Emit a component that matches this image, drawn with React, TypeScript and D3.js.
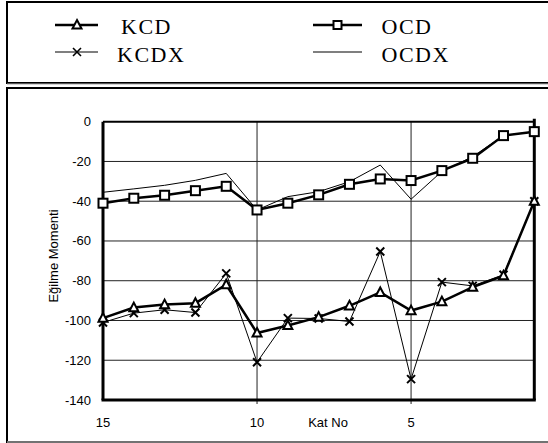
import React from "react";
import * as d3 from "d3";

const floors = [15, 14, 13, 12, 11, 10, 9, 8, 7, 6, 5, 4, 3, 2, 1];
const KCD = [-98.8, -93.5, -92, -91.3, -82, -106.3, -102.5, -98.3, -92.6, -85.9, -95, -90.5, -83.2, -77.5, -40];
const KCDX = [-101, -96.3, -94.6, -96, -76.3, -121, -98.8, -99, -100.5, -65.3, -129.5, -80.7, -82.6, -77, -40];
const OCD = [-41, -38.5, -37, -34.7, -32.5, -44.4, -41, -36.8, -31.5, -28.8, -29.6, -24.6, -18.4, -7, -5];
const OCDX = [-35.5, -33.8, -32, -29.5, -26, -44.4, -37.7, -35.2, -30.2, -21.8, -39, -25, -17.6, -7, -5];
const yTicks = [0, -20, -40, -60, -80, -100, -120, -140];
const xTicks = [15, 10, 5];
const xGrid = [10, 5];

const SANS = "'Liberation Sans', Arial, sans-serif";
const SERIF = "'Liberation Serif', 'Times New Roman', serif";

export default function App() {
  const x = d3.scaleLinear().domain([15, 1]).range([103, 534.3]);
  const y = d3.scaleLinear().domain([0, -140]).range([121.7, 400]);
  const line = d3
    .line<number>()
    .x((_, i) => x(floors[i]))
    .y((d) => y(d));

  const tri = (cx: number, cy: number, s = 9) =>
    `M${cx},${cy - s * 0.55} L${cx + s / 2},${cy + s * 0.4} L${cx - s / 2},${cy + s * 0.4} Z`;
  const cross = (cx: number, cy: number, s = 8) =>
    `M${cx - s / 2},${cy - s / 2} L${cx + s / 2},${cy + s / 2} M${cx + s / 2},${cy - s / 2} L${cx - s / 2},${cy + s / 2}`;

  const [x0, x1] = x.range();
  const [y0, y1] = y.range();
  const legendText = { fontFamily: SERIF, fontSize: 22, fill: "#000", letterSpacing: 1.5 } as const;

  return (
    <svg
      width={548}
      height={443}
      style={{ position: "absolute", left: 0, top: 0, background: "#fff" }}
    >
      {/* legend box */}
      <rect x={7} y={2} width={560} height={81} fill="#fff" stroke="#000" strokeWidth={2} />
      <line x1={7} y1={84} x2={548} y2={84} stroke="#aaa" strokeWidth={1} />
      {/* legend entries */}
      <g>
        <line x1={55} x2={98} y1={25} y2={25} stroke="#000" strokeWidth={2.5} />
        <path d={tri(77, 25)} fill="#fff" stroke="#000" strokeWidth={2} />
        <text x={121} y={34} {...legendText}>KCD</text>
        <line x1={55} x2={98} y1={52} y2={52} stroke="#000" strokeWidth={1.2} />
        <path d={cross(77, 52)} fill="none" stroke="#000" strokeWidth={1.6} />
        <text x={117} y={62} {...legendText}>KCDX</text>
        <line x1={313} x2={362} y1={25} y2={25} stroke="#000" strokeWidth={2.5} />
        <rect x={333.5} y={21} width={8} height={8} fill="#fff" stroke="#000" strokeWidth={2} />
        <text x={381.5} y={34} {...legendText}>OCD</text>
        <line x1={313} x2={362} y1={52} y2={52} stroke="#000" strokeWidth={1.2} />
        <text x={381.5} y={62} {...legendText}>OCDX</text>
      </g>

      {/* chart box */}
      <rect x={7} y={88} width={560} height={354} fill="#fff" stroke="#000" strokeWidth={2} />
      <line x1={7} y1={442} x2={548} y2={442} stroke="#999" strokeWidth={1.5} />

      {/* gridlines */}
      {yTicks.slice(1, -1).map((t) => (
        <line key={"gy" + t} x1={x0} x2={x1} y1={y(t)} y2={y(t)} stroke="#222" strokeWidth={1} />
      ))}
      {xGrid.map((t) => (
        <line key={"gx" + t} x1={x(t)} x2={x(t)} y1={y0} y2={y1 + 4} stroke="#222" strokeWidth={1} />
      ))}

      {/* frame */}
      <line x1={x0} x2={x1} y1={y0} y2={y0} stroke="#000" strokeWidth={2} />
      <line x1={x0} x2={x0} y1={y0} y2={y1} stroke="#000" strokeWidth={3} />
      <line x1={x1} x2={x1} y1={y0 - 3} y2={y1} stroke="#000" strokeWidth={3} />
      <line x1={x0 - 1.5} x2={x1 + 1.5} y1={y1} y2={y1} stroke="#000" strokeWidth={3} />

      {/* y tick labels */}
      {yTicks.map((t) => (
        <text key={"yt" + t} x={91} y={y(t) + 4.5} textAnchor="end" fontFamily={SANS} fontSize={13} fill="#000">
          {t}
        </text>
      ))}
      {/* x tick labels */}
      {xTicks.map((t) => (
        <text key={"xt" + t} x={x(t)} y={427} textAnchor="middle" fontFamily={SANS} fontSize={13} fill="#000">
          {t}
        </text>
      ))}
      <text x={328} y={427} textAnchor="middle" fontFamily={SANS} fontSize={13} fill="#000">
        Kat No
      </text>
      <text
        transform="translate(58,256) rotate(-90)"
        textAnchor="middle"
        fontFamily={SANS}
        fontSize={13}
        fill="#000"
      >
        Eğilme Momenti
      </text>

      {/* series */}
      <path d={line(OCDX) || ""} fill="none" stroke="#000" strokeWidth={1} />
      <path d={line(OCD) || ""} fill="none" stroke="#000" strokeWidth={2.5} />
      {OCD.map((v, i) => (
        <rect key={"o" + i} x={x(floors[i]) - 4.5} y={y(v) - 4.5} width={9} height={9} fill="#fff" stroke="#000" strokeWidth={2} />
      ))}
      <path d={line(KCDX) || ""} fill="none" stroke="#000" strokeWidth={1} />
      {KCDX.map((v, i) => (
        <path key={"kx" + i} d={cross(x(floors[i]), y(v))} fill="none" stroke="#000" strokeWidth={2} />
      ))}
      <path d={line(KCD) || ""} fill="none" stroke="#000" strokeWidth={2.5} />
      {KCD.map((v, i) => (
        <path key={"k" + i} d={tri(x(floors[i]), y(v))} fill="#fff" stroke="#000" strokeWidth={2} />
      ))}
    </svg>
  );
}
